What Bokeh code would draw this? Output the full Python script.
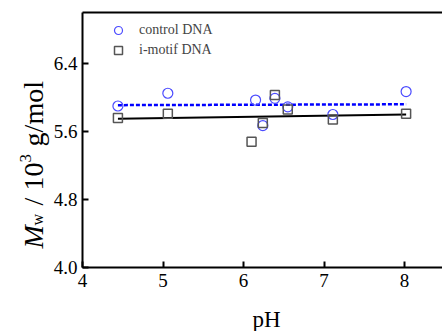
from math import pi
from bokeh.plotting import figure
from bokeh.models import (FixedTicker, LinearAxis, Label, Legend, LegendItem,
                          Range1d, ColumnDataSource, PrintfTickFormatter)
from bokeh.embed import file_html
from bokeh.resources import INLINE

# ---- data ----
ph_control = [4.44, 5.06, 6.15, 6.24, 6.39, 6.55, 7.11, 8.02]
mw_control = [5.90, 6.05, 5.97, 5.67, 5.99, 5.89, 5.80, 6.07]
ph_imotif = [4.44, 5.06, 6.10, 6.24, 6.39, 6.55, 7.11, 8.02]
mw_imotif = [5.76, 5.81, 5.48, 5.70, 6.03, 5.86, 5.74, 5.81]
fit_ph = [4.44, 8.02]
fit_control = [5.91, 5.92]
fit_imotif = [5.75, 5.80]
x_ticks = [4, 5, 6, 7, 8]
y_ticks = [4.0, 4.8, 5.6, 6.4]
series_names = ["control DNA", "i-motif DNA"]
x_label = "pH"

FONT = "Liberation Serif"

# ---- layout: the frame covers the whole canvas, axes sit at fixed places ----
W, H = 442, 331
AX_LEFT_PX, AX_BOTTOM_PX = 82, 267     # where pH=4 and Mw=4.0 lie
PXX, PXY = 80.5, 85.0                  # px per data unit
XA, YA = 4.0, 4.0
YTOP = 7.0
x_start = XA - AX_LEFT_PX / PXX
x_end = XA + (W - AX_LEFT_PX) / PXX
y_start = YA - (H - AX_BOTTOM_PX) / PXY
y_end = YA + AX_BOTTOM_PX / PXY

def sx(px):
    return x_start + px / PXX

def sy(py):
    return y_end - py / PXY

p = figure(width=W, height=H, output_backend="svg", toolbar_location=None,
           x_range=Range1d(x_start, x_end), y_range=Range1d(y_start, y_end),
           min_border=0, min_border_left=0, min_border_right=0,
           min_border_top=0, min_border_bottom=0)
p.outline_line_color = None
p.grid.visible = False
p.background_fill_color = "white"
p.border_fill_color = "white"

src_c = ColumnDataSource(dict(x=ph_control, y=mw_control))
src_i = ColumnDataSource(dict(x=ph_imotif, y=mw_imotif))

p.line(fit_ph, fit_control, line_color="#0000ff", line_width=2.5, line_dash="4 2")
p.line(fit_ph, fit_imotif, line_color="black", line_width=2)
r_c = p.scatter("x", "y", source=src_c, marker="circle", size=10,
                fill_color=None, line_color="#4b4bff", line_width=1.2)
r_i = p.scatter("x", "y", source=src_i, marker="square", size=9,
                fill_color=None, line_color="#555555", line_width=1.5)

xa = p.xaxis[0]
ya = p.yaxis[0]
xa.fixed_location = YA
ya.fixed_location = XA
xa.bounds = (XA, x_end)
ya.bounds = (YA, YTOP)
for ax in (xa, ya):
    ax.axis_line_width = 2
    ax.major_tick_line_width = 2
    ax.major_tick_in = 6
    ax.major_tick_out = 0
    ax.minor_tick_line_color = None
    ax.major_label_text_font = FONT
    ax.major_label_text_font_style = "normal"
    ax.major_label_text_font_size = "19px"
    ax.major_label_text_color = "black"
xa.ticker = FixedTicker(ticks=x_ticks)
xa.major_label_standoff = 6
ya.ticker = FixedTicker(ticks=y_ticks)
ya.formatter = PrintfTickFormatter(format="%.1f")
ya.major_label_standoff = 5

top_axis = LinearAxis(axis_line_width=2, major_tick_line_color=None,
                      minor_tick_line_color=None, major_label_text_font_size="0px",
                      major_label_text_color=None, ticker=FixedTicker(ticks=[]),
                      fixed_location=YTOP, bounds=(XA, x_end))
p.add_layout(top_axis, "above")

# x axis label
p.add_layout(Label(x=sx(266), y=sy(319), text=x_label, text_align="center",
                   text_baseline="alphabetic", text_font=FONT,
                   text_font_size="23px", text_color="black"))

# y axis label built from pieces (M_w / 10^3 g/mol); each piece starts at
# its own place along the axis (page px), rotated to read bottom-up
pieces = [
    ("M", 248.0, 28, "italic", 33),
    ("w", 225.0, 16, "normal", 37),
    ("/", 205.0, 28, "normal", 33),
    ("10", 189.9, 28, "normal", 33),
    ("3", 161.9, 17, "normal", 25),
    ("g/mol", 145.9, 28, "normal", 33),
]
for txt, py, fs, style, bx in pieces:
    p.add_layout(Label(x=sx(bx), y=sy(py), text=txt, angle=pi / 2,
                       text_align="left", text_baseline="alphabetic",
                       text_font=FONT, text_font_size=f"{fs}px",
                       text_font_style=style, text_color="black"))

legend = Legend(items=[LegendItem(label=series_names[0], renderers=[r_c]),
                       LegendItem(label=series_names[1], renderers=[r_i])],
                location=(108, H - 60), glyph_width=20, glyph_height=20,
                label_height=20, spacing=0, padding=0, margin=0,
                label_standoff=11, border_line_color=None,
                background_fill_alpha=0, label_text_font=FONT,
                label_text_font_size="14px")
p.add_layout(legend)

open("out.html", "w").write(file_html(p, INLINE))
